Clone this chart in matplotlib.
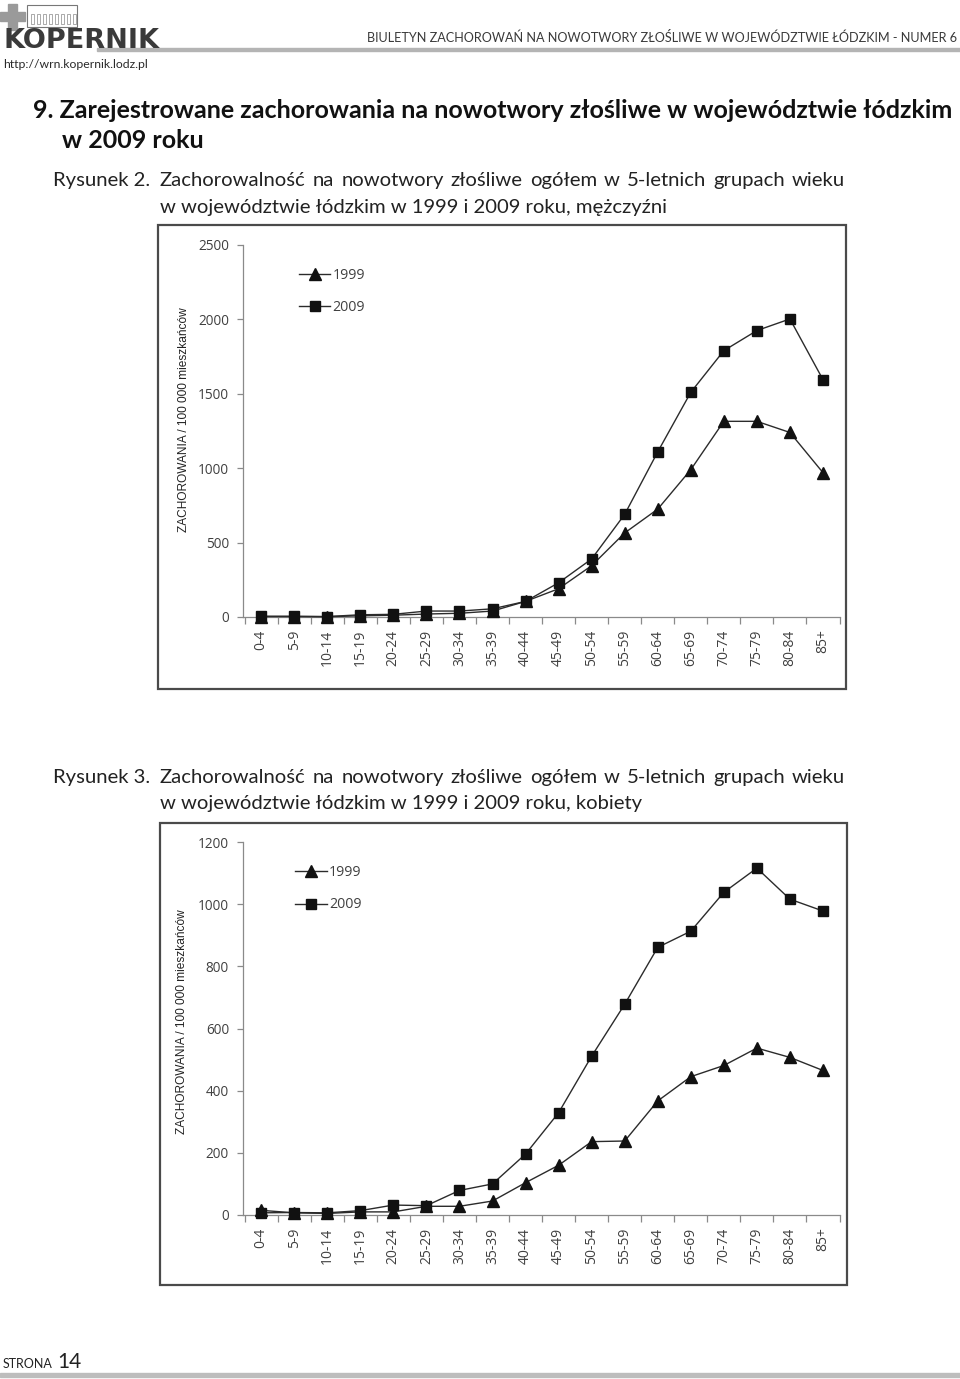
import matplotlib
matplotlib.use("Agg")
import matplotlib.pyplot as plt
from matplotlib.patches import Rectangle

# ---------------- data ----------------
age_groups = ["0-4", "5-9", "10-14", "15-19", "20-24", "25-29", "30-34", "35-39",
              "40-44", "45-49", "50-54", "55-59", "60-64", "65-69", "70-74",
              "75-79", "80-84", "85+"]

men_1999 = [3, 3, 2, 8, 12, 20, 25, 40, 105, 190, 345, 565, 725, 990, 1315, 1315, 1240, 970]
men_2009 = [5, 5, 3, 15, 18, 40, 40, 55, 105, 230, 390, 690, 1110, 1510, 1790, 1925, 2003, 1595]

women_1999 = [15, 7, 5, 10, 10, 28, 28, 45, 104, 160, 236, 238, 367, 445, 481, 537, 507, 465]
women_2009 = [7, 8, 7, 14, 32, 30, 79, 100, 196, 329, 511, 678, 861, 913, 1038, 1116, 1016, 978]

series_labels = ["1999", "2009"]
men_yticks = [0, 500, 1000, 1500, 2000, 2500]
women_yticks = [0, 200, 400, 600, 800, 1000, 1200]

header_text = "BIULETYN ZACHOROWAŃ NA NOWOTWORY ZŁOŚLIWE W WOJEWÓDZTWIE ŁÓDZKIM - NUMER 6"
title_line1 = "9. Zarejestrowane zachorowania na nowotwory złośliwe w województwie łódzkim"
title_line2 = "w 2009 roku"
fig2_line1 = "Zachorowalność na nowotwory złośliwe ogółem w 5-letnich grupach wieku"
fig2_line2 = "w województwie łódzkim w 1999 i 2009 roku, mężczyźni"
fig3_line1 = "Zachorowalność na nowotwory złośliwe ogółem w 5-letnich grupach wieku"
fig3_line2 = "w województwie łódzkim w 1999 i 2009 roku, kobiety"
ylabel_text = "ZACHOROWANIA / 100 000 mieszkańców"

# ---------------- layout helpers ----------------
W, H = 960, 1379
fig = plt.figure(figsize=(W / 100, H / 100), dpi=100)
renderer = fig.canvas.get_renderer()


def fx(x):
    return x / W


def fy(y):
    return 1 - y / H


def rect_axes(left, top, right, bottom):
    return fig.add_axes([fx(left), fy(bottom), fx(right) - fx(left), (bottom - top) / H])


TEXT_FONT = "Lato"
TICK_FONT = "Open Sans"
CAP_SIZE = 14.6


def justified(text, x0, x1, y, **kw):
    words = text.split(" ")
    widths = []
    for w_ in words:
        t = fig.text(0, 0, w_, **kw)
        widths.append(t.get_window_extent(renderer).width)
        t.remove()
    gap = (x1 - x0 - sum(widths)) / (len(words) - 1)
    x = x0
    for w_, wd in zip(words, widths):
        fig.text(fx(x), fy(y), w_, va="baseline", ha="left", **kw)
        x += wd + gap


# ---------------- header ----------------
fig.patches.append(Rectangle((fx(8), fy(30)), fx(9), (30 - 4) / H, transform=fig.transFigure,
                             color="#9a9a9a", zorder=1))
fig.patches.append(Rectangle((fx(0), fy(21)), fx(25), 9 / H, transform=fig.transFigure,
                             color="#9a9a9a", zorder=1))
fig.patches.append(Rectangle((fx(27), fy(27)), fx(50), 22 / H, transform=fig.transFigure,
                             fill=False, ec="#777777", lw=0.8, zorder=1))
for xx in range(31, 76, 6):
    fig.patches.append(Rectangle((fx(xx), fy(24)), fx(3), 10 / H, transform=fig.transFigure,
                                 fill=False, ec="#888888", lw=0.5, zorder=1))
fig.text(fx(4), fy(41), "KOPERNIK", fontsize=19.5, fontweight="bold", family="DejaVu Sans",
         color="#3a3a3a", va="center", ha="left")
fig.text(fx(3), fy(64), "http://wrn.kopernik.lodz.pl", fontsize=8.8, family=TEXT_FONT,
         color="#2a2a2a", va="center", ha="left")
fig.text(fx(957), fy(38), header_text, fontsize=9.1, family=TEXT_FONT, color="#3a3a3a",
         va="center", ha="right")
fig.patches.append(Rectangle((fx(97), fy(51)), fx(960 - 97), 3 / H, transform=fig.transFigure,
                             color="#b4b4b4", zorder=1))

# ---------------- titles ----------------
fig.text(fx(33), fy(111), title_line1, fontsize=18, fontweight="bold", family=TEXT_FONT,
         color="#111111", va="center", ha="left")
fig.text(fx(62), fy(141), title_line2, fontsize=18, fontweight="bold", family=TEXT_FONT,
         color="#111111", va="center", ha="left")

cap_kw = dict(fontsize=CAP_SIZE, family=TEXT_FONT, color="#222222")
for (lab, l1, l2, y1, y2) in (("Rysunek 2.", fig2_line1, fig2_line2, 186, 213),
                             ("Rysunek 3.", fig3_line1, fig3_line2, 783, 809)):
    fig.text(fx(53), fy(y1), lab, va="baseline", ha="left", **cap_kw)
    justified(l1, 160, 845, y1, **cap_kw)
    fig.text(fx(160), fy(y2), l2, va="baseline", ha="left", **cap_kw)

# ---------------- footer ----------------
fig.text(fx(3), fy(1368), "STRONA", fontsize=9, family=TEXT_FONT, color="#222222",
         va="baseline", ha="left")
fig.text(fx(57), fy(1368), "14", fontsize=15, family=TEXT_FONT, color="#222222",
         va="baseline", ha="left")
fig.patches.append(Rectangle((fx(0), fy(1377)), 1, 4 / H, transform=fig.transFigure,
                             color="#bdbdbd", zorder=1))


# ---------------- charts ----------------
def draw_chart(frame, axbox, s1999, s2009, yticks, ylabel_xy, legend_anchor):
    fl, ft, fr, fb = frame
    fig.patches.append(Rectangle((fx(fl), fy(fb)), fx(fr - fl), (fb - ft) / H,
                                 transform=fig.transFigure, fill=False,
                                 ec="#4a4a4a", lw=1.6, zorder=0))
    ax = rect_axes(*axbox)
    x = list(range(len(age_groups)))
    ax.plot(x, s1999, color="#2b2b2b", lw=1.0, marker="^", ms=8, mfc="#111111",
            mec="#111111", label=series_labels[0], zorder=3, clip_on=False)
    ax.plot(x, s2009, color="#2b2b2b", lw=1.0, marker="s", ms=7.5, mfc="#111111",
            mec="#111111", label=series_labels[1], zorder=4, clip_on=False)
    ax.set_xlim(-0.55, len(age_groups) - 0.5)
    ax.set_ylim(yticks[0], yticks[-1])
    ax.set_yticks(yticks)
    ax.set_yticklabels([str(v) for v in yticks], family=TICK_FONT, fontsize=9.8, color="#404040")
    ax.set_xticks(x)
    ax.set_xticklabels(age_groups, rotation=90, family=TICK_FONT, fontsize=10, color="#404040")
    ax.tick_params(axis="x", which="major", length=0, pad=9)
    ax.set_xticks([i - 0.5 for i in range(len(age_groups) + 1)], minor=True)
    ax.tick_params(axis="x", which="minor", length=5, color="#8a8a8a", width=0.9)
    ax.tick_params(axis="y", length=4, color="#8a8a8a", width=0.9, pad=6)
    for side in ("top", "right"):
        ax.spines[side].set_visible(False)
    for side in ("left", "bottom"):
        ax.spines[side].set_color("#8a8a8a")
        ax.spines[side].set_linewidth(0.9)
    ax.patch.set_alpha(0)
    leg = ax.legend(loc="upper left", bbox_to_anchor=legend_anchor, frameon=False,
                    handlelength=2.2, handletextpad=0.15, labelspacing=1.25,
                    prop={"family": TICK_FONT, "size": 10.2}, borderaxespad=0,
                    borderpad=0)
    for t in leg.get_texts():
        t.set_color("#404040")
    fig.text(fx(ylabel_xy[0]), fy(ylabel_xy[1]), ylabel_text, rotation=90,
             family="Liberation Sans", fontsize=8.6, color="#222222", va="center", ha="center")
    return ax


draw_chart((158, 225, 846, 689), (243, 245, 839.5, 617), men_1999, men_2009, men_yticks,
           (184, 420), (0.094, 0.939))
draw_chart((160, 823, 847, 1285), (243, 842, 839.5, 1215), women_1999, women_2009,
           women_yticks, (182, 1022), (0.088, 0.939))

fig.savefig("out.png", dpi=100)
